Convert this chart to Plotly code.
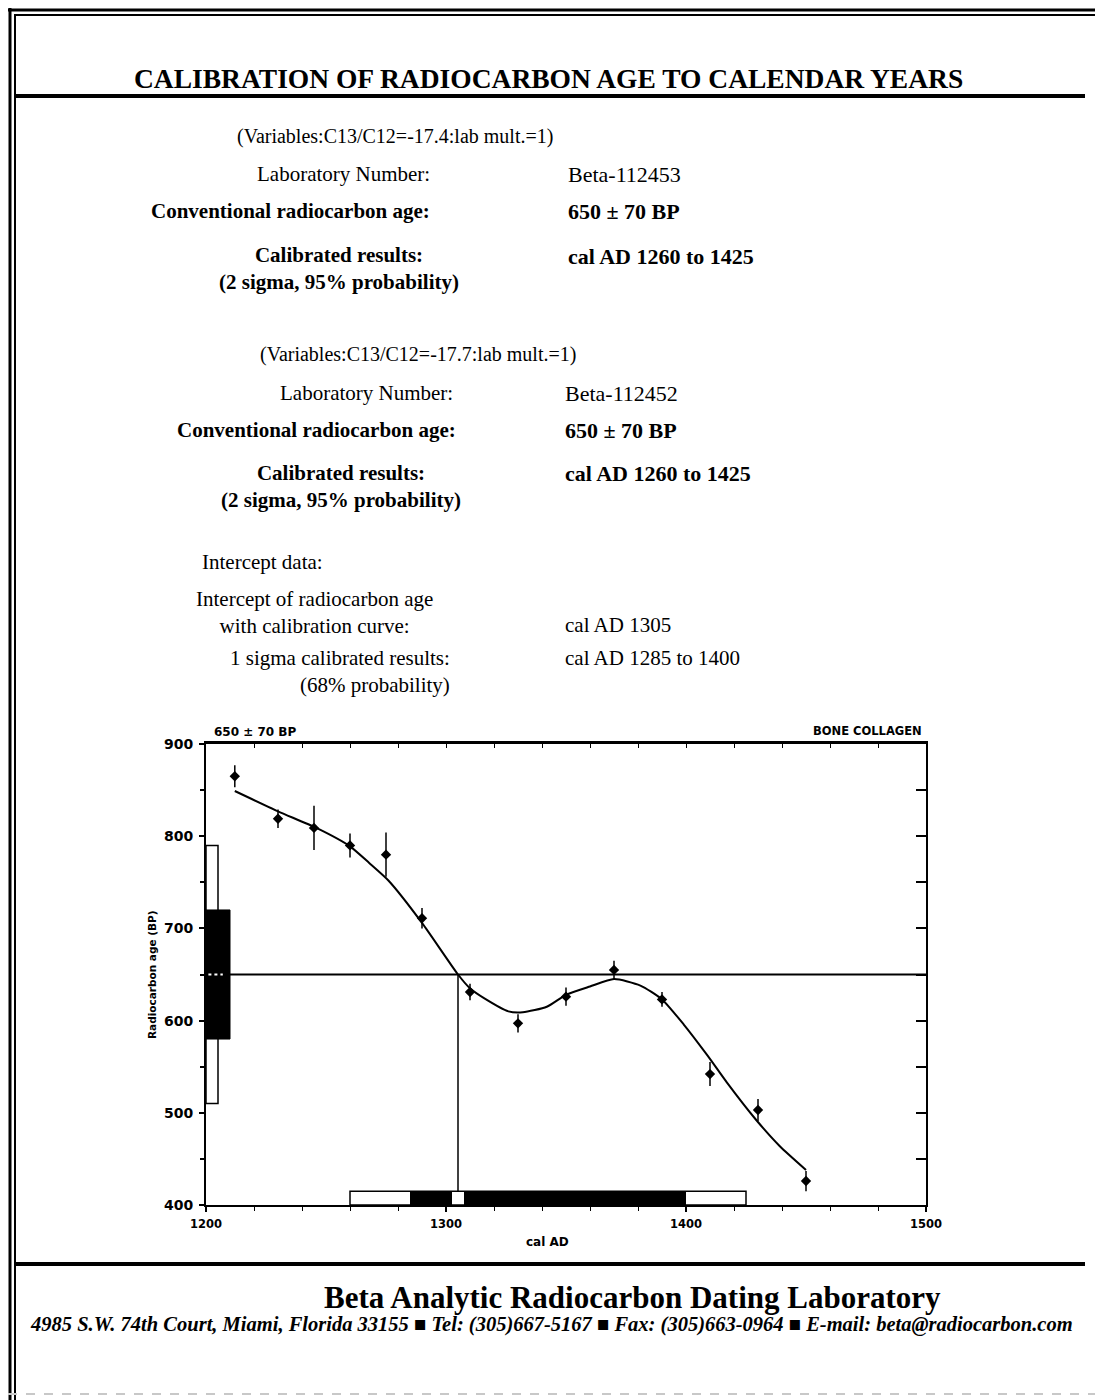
import plotly.graph_objects as go

# ---------------- data ----------------
curve_year = [1212, 1230, 1246, 1260, 1268, 1276, 1290, 1305, 1310, 1316, 1326, 1332, 1342, 1350, 1360, 1370,
              1381, 1390, 1399, 1409, 1417, 1429, 1439, 1450]
curve_bp = [849, 827, 809, 789, 771, 752, 706, 650, 635, 624, 610, 609, 615, 628, 637, 645,
            638, 623, 596, 562, 533, 493, 464, 438]

sample_year = [1212, 1230, 1245, 1260, 1275, 1290, 1310, 1330, 1350, 1370, 1390, 1410, 1430, 1450]
sample_bp = [865, 819, 809, 790, 780, 711, 631, 597, 626, 655, 623, 542, 503, 426]
sample_err = [12, 10, 24, 13, 24, 11, 9, 10, 10, 10, 8, 13, 12, 11]

age_bp = 650
age_2sigma = [510, 790]
age_1sigma = [580, 720]
cal_2sigma = [1260, 1425]
cal_1sigma = [1285, 1400]
intercept = 1305

x_range = [1200, 1500]
y_range = [400, 900]
x_labels = [1200, 1300, 1400, 1500]
y_labels = [400, 500, 600, 700, 800, 900]

# ---------------- layout geometry (page pixels; body margin 8px) ----------------
OFF = 8
W, H = 1103 - OFF, 1400 - OFF
PL, PR, PT, PB = 206, 926, 744, 1205
SERIF = "Liberation Serif"
SANS = "DejaVu Sans"


def pp(x, y):
    return (x - PL) / (PR - PL), (PB - y) / (PB - PT)


fig = go.Figure()

fig.add_trace(go.Scatter(x=curve_year, y=curve_bp, mode="lines",
                         line=dict(color="black", width=2, shape="spline", smoothing=0.6),
                         hoverinfo="skip", showlegend=False))
fig.add_trace(go.Scatter(x=sample_year, y=sample_bp, mode="markers",
                         marker=dict(symbol="diamond", size=8, color="black"),
                         error_y=dict(type="data", array=sample_err, color="black", thickness=1.5, width=0),
                         showlegend=False))
fig.add_trace(go.Scatter(x=[x_range[0]], y=[y_range[0]], xaxis="x2", yaxis="y2", mode="markers",
                         marker=dict(opacity=0), showlegend=False, hoverinfo="skip"))

shapes = []
bar_h = 15
shapes.append(dict(type="line", xref="x", yref="y", x0=x_range[0], x1=x_range[1], y0=age_bp, y1=age_bp,
                   line=dict(color="black", width=2)))
shapes.append(dict(type="rect", xref="x", yref="y", x0=x_range[0], x1=x_range[0] + 5,
                   y0=age_2sigma[0], y1=age_2sigma[1], line=dict(color="black", width=1.5), fillcolor="white"))
shapes.append(dict(type="rect", xref="x", yref="y", x0=x_range[0], x1=x_range[0] + 10,
                   y0=age_1sigma[0], y1=age_1sigma[1], line=dict(color="black", width=1), fillcolor="black"))
shapes.append(dict(type="line", xref="x", yref="y", x0=x_range[0] + 1, x1=x_range[0] + 7, y0=age_bp, y1=age_bp,
                   line=dict(color="white", width=2, dash="dot")))
shapes.append(dict(type="line", xref="x", yref="y", x0=intercept, x1=intercept, y0=y_range[0], y1=age_bp,
                   line=dict(color="black", width=1.5)))
shapes.append(dict(type="rect", xref="x", yref="y", x0=cal_2sigma[0], x1=cal_2sigma[1],
                   y0=y_range[0], y1=y_range[0] + bar_h, line=dict(color="black", width=1.5), fillcolor="white"))
shapes.append(dict(type="rect", xref="x", yref="y", x0=cal_1sigma[0], x1=intercept - 2.5,
                   y0=y_range[0], y1=y_range[0] + bar_h, line=dict(color="black", width=0), fillcolor="black"))
shapes.append(dict(type="rect", xref="x", yref="y", x0=intercept + 2.5, x1=cal_1sigma[1],
                   y0=y_range[0], y1=y_range[0] + bar_h, line=dict(color="black", width=0), fillcolor="black"))


def hline(y, x0, x1, w=3, color="black", dash="solid"):
    a, b = pp(x0, y)
    c, _ = pp(x1, y)
    shapes.append(dict(type="line", xref="paper", yref="paper", x0=a, x1=c, y0=b, y1=b,
                       line=dict(color=color, width=w, dash=dash)))


def vline(x, y0, y1, w=2):
    a, b = pp(x, y0)
    _, c = pp(x, y1)
    shapes.append(dict(type="line", xref="paper", yref="paper", x0=a, x1=a, y0=b, y1=c,
                       line=dict(color="black", width=w)))


# page frame and rules
hline(10, 8, 1103, 3)
hline(15, 14, 1103, 2)
vline(10, 8, 1400, 3)
vline(15, 14, 1400, 2)
hline(96, 15, 1085, 4)
hline(1264, 15, 1085, 4)
hline(1394, 8, 1103, 2, color="#c8c8c8", dash="dash")

anns = []


def txt(x, y, s, size=21, bold=False, italic=False, anchor="left", align=None, family=SERIF):
    a, b = pp(x, y)
    f = dict(family=family, size=size, color="black")
    if bold:
        f["weight"] = "bold"
    if italic:
        f["style"] = "italic"
    anns.append(dict(x=a, y=b, xref="paper", yref="paper", text=s, showarrow=False,
                     xanchor=anchor, yanchor="middle", align=align or anchor, font=f))


txt(548, 78, "CALIBRATION OF RADIOCARBON AGE TO CALENDAR YEARS", size=27.5, bold=True, anchor="center")

# block 1
txt(395, 136, "(Variables:C13/C12=-17.4:lab mult.=1)", size=20, anchor="center")
txt(432, 174, "Laboratory Number:", anchor="right")
txt(566, 174, "Beta-112453", size=22)
txt(432, 211, "Conventional radiocarbon age:", bold=True, anchor="right")
txt(566, 211, "650 ± 70 BP", size=22, bold=True)
txt(339, 268, "Calibrated results:<br>(2 sigma, 95% probability)", bold=True, anchor="center")
txt(566, 256, "cal AD 1260 to 1425", size=22, bold=True)

# block 2
txt(418, 355, "(Variables:C13/C12=-17.7:lab mult.=1)", size=20, anchor="center")
txt(455, 393, "Laboratory Number:", anchor="right")
txt(563, 393, "Beta-112452", size=22)
txt(458, 430, "Conventional radiocarbon age:", bold=True, anchor="right")
txt(563, 430, "650 ± 70 BP", size=22, bold=True)
txt(341, 486, "Calibrated results:<br>(2 sigma, 95% probability)", bold=True, anchor="center")
txt(563, 473, "cal AD 1260 to 1425", size=22, bold=True)

# intercept
txt(200, 562, "Intercept data:")
txt(314, 612, "Intercept of radiocarbon age<br>with calibration curve:", anchor="center")
txt(563, 625, "cal AD 1305")
txt(452, 671, "1 sigma calibrated results:<br>(68% probability)", anchor="right")
txt(563, 658, "cal AD 1285 to 1400")

# chart labels
txt(212, 732, "650 ± 70 BP", size=12, bold=True, family=SANS)
txt(924, 731, "BONE COLLAGEN", size=11.5, bold=True, family=SANS, anchor="right")
txt(547, 1242, "cal AD", size=12, bold=True, family=SANS, anchor="center")
a, b = pp(152, 975)
anns.append(dict(x=a, y=b, xref="paper", yref="paper", text="Radiocarbon age (BP)", showarrow=False,
                 textangle=-90, xanchor="center", yanchor="middle",
                 font=dict(family=SANS, size=10.5, color="black", weight="bold")))

# footer
txt(632, 1297, "Beta Analytic Radiocarbon Dating Laboratory", size=31, bold=True, anchor="center")
txt(551, 1324, "4985 S.W. 74th Court, Miami, Florida 33155 \u25a0 Tel: (305)667-5167 \u25a0 Fax: (305)663-0964 \u25a0 E-mail: beta@radiocarbon.com",
    size=20.5, bold=True, italic=True, anchor="center")

xfont = dict(family=SANS, size=11.5, color="black", weight="bold")
yfont = dict(family=SANS, size=14, color="black", weight="bold")
fig.update_layout(
    width=W, height=H, autosize=False,
    margin=dict(l=PL - OFF, r=W - (PR - OFF), t=PT - OFF, b=H - (PB - OFF), pad=0),
    paper_bgcolor="white", plot_bgcolor="white",
    showlegend=False,
    shapes=shapes, annotations=anns,
    xaxis=dict(range=x_range, tickvals=x_labels, ticks="outside", ticklen=5, tickwidth=1.5, tickcolor="black",
               minor=dict(dtick=20, tick0=1200, ticks="outside", ticklen=4, tickcolor="black", tickwidth=1),
               showline=True, linecolor="black", linewidth=2, showgrid=False, zeroline=False,
               tickfont=xfont, fixedrange=True, ticklabelstandoff=2),
    xaxis2=dict(range=x_range, overlaying="x", side="top", ticks="inside", ticklen=4, tickcolor="black",
                tickvals=x_labels, showticklabels=False,
                minor=dict(dtick=20, tick0=1200, ticks="inside", ticklen=4, tickcolor="black"),
                showline=True, linecolor="black", linewidth=3, showgrid=False, zeroline=False, fixedrange=True),
    yaxis=dict(range=y_range, tickvals=y_labels, ticks="outside", ticklen=5, tickwidth=1.5, tickcolor="black",
               minor=dict(dtick=50, tick0=400, ticks="outside", ticklen=4, tickcolor="black"),
               showline=True, linecolor="black", linewidth=2, showgrid=False, zeroline=False,
               tickfont=yfont, fixedrange=True, ticklabelstandoff=3),
    yaxis2=dict(range=y_range, overlaying="y", side="right", ticks="inside", ticklen=10, tickwidth=2,
                tickcolor="black", tickvals=y_labels, showticklabels=False,
                minor=dict(dtick=50, tick0=400, ticks="inside", ticklen=10, tickcolor="black", tickwidth=2),
                showline=True, linecolor="black", linewidth=2, showgrid=False, zeroline=False, fixedrange=True),
)

fig.write_html("out.html")
